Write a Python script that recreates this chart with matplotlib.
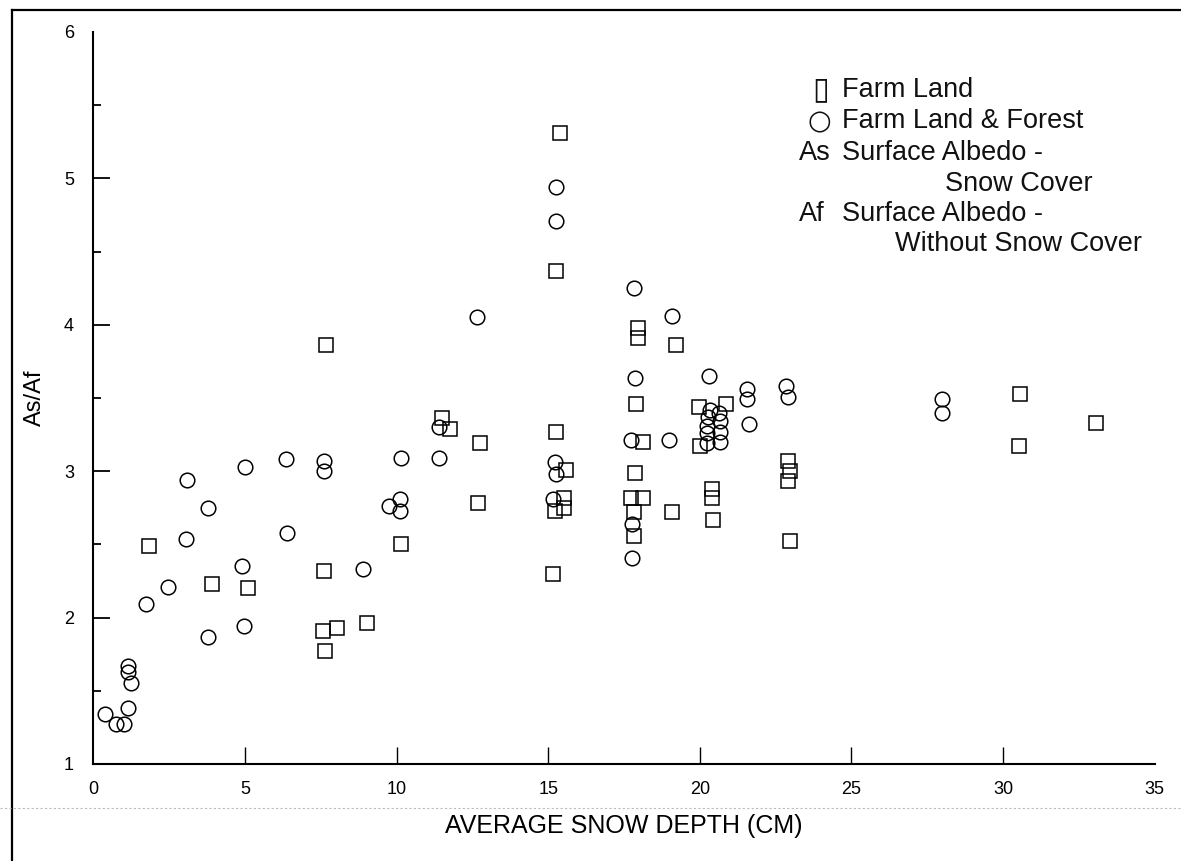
import matplotlib
matplotlib.use("Agg")
import matplotlib.pyplot as plt
from matplotlib.lines import Line2D
from matplotlib.ticker import MultipleLocator

# Farm Land (squares)
farm_x = [1.84, 3.92, 5.09, 7.61, 7.58, 8.03, 9.03, 7.65, 7.67, 10.15,
          11.50, 11.77, 12.75, 12.70, 15.38, 15.27, 15.27, 15.60, 15.52, 15.52,
          15.22, 15.16, 17.95, 17.95, 19.20, 17.91, 18.13, 17.86, 17.72, 18.13,
          17.83, 17.83, 19.09, 19.96, 20.88, 20.02, 20.39, 20.39, 20.44, 22.91,
          22.99, 22.91, 22.97, 30.55, 30.53, 33.08]
farm_y = [2.49, 2.23, 2.20, 2.32, 1.91, 1.93, 1.96, 1.77, 3.86, 2.50,
          3.36, 3.29, 3.19, 2.78, 5.31, 4.37, 3.27, 3.01, 2.82, 2.75,
          2.73, 2.30, 3.98, 3.91, 3.86, 3.46, 3.20, 2.99, 2.82, 2.82,
          2.72, 2.56, 2.72, 3.44, 3.46, 3.17, 2.88, 2.82, 2.67, 3.07,
          3.00, 2.93, 2.52, 3.53, 3.17, 3.33]

# Farm Land & Forest (circles)
forest_x = [0.38, 0.73, 1.01, 1.13, 1.23, 1.15, 1.15, 1.72, 2.46, 3.04,
            3.08, 3.79, 3.79, 4.91, 4.97, 4.99, 6.35, 6.38, 7.61, 7.61,
            8.90, 9.74, 10.11, 10.12, 10.14, 11.40, 11.40, 12.66, 15.27, 15.26,
            15.21, 15.26, 15.16, 17.83, 19.07, 17.87, 20.31, 21.56, 21.56, 22.84,
            22.91, 20.33, 20.27, 20.25, 20.25, 20.25, 20.64, 20.66, 20.66, 20.66,
            21.62, 17.72, 18.99, 17.78, 17.75, 28.0, 28.0]
forest_y = [1.34, 1.27, 1.27, 1.38, 1.55, 1.63, 1.67, 2.09, 2.21, 2.54,
            2.94, 2.75, 1.87, 2.35, 1.94, 3.03, 3.08, 2.58, 3.07, 3.00,
            2.33, 2.76, 2.73, 2.81, 3.09, 3.30, 3.09, 4.05, 4.94, 4.71,
            3.06, 2.98, 2.81, 4.25, 4.06, 3.64, 3.65, 3.56, 3.49, 3.58,
            3.51, 3.42, 3.37, 3.31, 3.26, 3.19, 3.40, 3.34, 3.27, 3.20,
            3.32, 3.21, 3.21, 2.64, 2.41, 3.49, 3.40]

x_ticks = [0, 5, 10, 15, 20, 25, 30, 35]
y_ticks = [1, 2, 3, 4, 5, 6]

FONT = ["Liberation Sans", "DejaVu Sans"]

fig = plt.figure(figsize=(11.81, 8.61), dpi=100)
ax = fig.add_axes([93.4 / 1181, 97 / 861, 1061.2 / 1181, 732 / 861])

ax.plot(farm_x, farm_y, ls="none", marker="s", ms=10, mfc="none",
        mec="black", mew=1.1)
ax.plot(forest_x, forest_y, ls="none", marker="o", ms=10.5, mfc="none",
        mec="black", mew=1.1)

ax.set_xlim(0, 35)
ax.set_ylim(1, 6)
for side in ("top", "right"):
    ax.spines[side].set_visible(False)
for side in ("left", "bottom"):
    ax.spines[side].set_linewidth(1.5)

ax.set_xticks(x_ticks)
ax.set_yticks(y_ticks)
ax.yaxis.set_minor_locator(MultipleLocator(0.5))
ax.tick_params(axis="x", direction="in", length=12, width=1.0, pad=12,
               labelsize=13)
ax.tick_params(axis="y", which="major", direction="in", length=12, width=1.3,
               pad=14, labelsize=13)
ax.tick_params(axis="y", which="minor", direction="in", length=6, width=1.3)
for t in (ax.xaxis.get_major_ticks()[0], ax.xaxis.get_major_ticks()[-1],
          ax.yaxis.get_major_ticks()[0], ax.yaxis.get_major_ticks()[-1]):
    t.tick1line.set_visible(False)
for lab in ax.get_xticklabels() + ax.get_yticklabels():
    lab.set_family(FONT)

ax.set_xlabel("AVERAGE SNOW DEPTH (CM)", fontsize=18, family=FONT)
ax.xaxis.set_label_coords(0.5, -0.068)
ax.set_ylabel("As/Af", fontsize=17, family=FONT)
ax.yaxis.set_label_coords(-0.045, 0.5)

# legend block written as text, like the original figure
def axpos(px, py):
    return (px - 93.4) / 1061.2, (764 - py) / 732

legend_rows = [
    (812, 98, "\u25af"),
    (842, 97, "Farm Land"),
    (808, 129, "\u25cb"),
    (842, 128, "Farm Land & Forest"),
    (799, 160, "As"),
    (842, 160, "Surface Albedo -"),
    (945, 191, "Snow Cover"),
    (799, 221, "Af"),
    (842, 221, "Surface Albedo -"),
    (895, 251, "Without Snow Cover"),
]
for px, py, txt in legend_rows:
    lx, ly = axpos(px, py)
    fam = ["DejaVu Sans"] if txt in ("\u25af", "\u25cb") else FONT
    size = 22 if txt == "\u25af" else 19.5
    ax.text(lx, ly, txt, transform=ax.transAxes, fontsize=size, family=fam,
            ha="left", va="baseline", color="#111111")

# scanned page frame and faint scan line
fig.add_artist(Line2D([12 / 1181, 12 / 1181], [0, 851 / 861], color="black",
                      lw=1.6, transform=fig.transFigure))
fig.add_artist(Line2D([12 / 1181, 1], [851 / 861, 851 / 861], color="black",
                      lw=1.6, transform=fig.transFigure))
fig.add_artist(Line2D([0, 1], [53 / 861, 53 / 861], color="#bbbbbb",
                      lw=0.8, ls=(0, (2, 2)), transform=fig.transFigure))

fig.savefig("out.png", dpi=100, facecolor="white")
